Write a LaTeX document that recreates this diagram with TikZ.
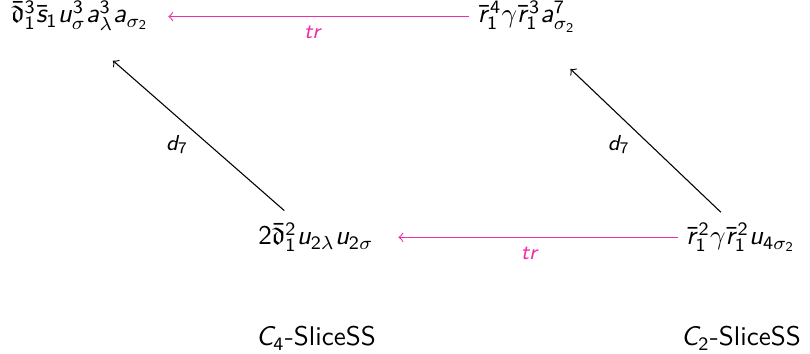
\documentclass[tikz,border=0pt]{standalone}
\usepackage{amsmath,amssymb}
\renewcommand{\familydefault}{\sfdefault}
% sans letters and digits in math, as in slides
\DeclareSymbolFont{sfletters}{OT1}{cmss}{m}{sl}
\SetSymbolFont{operators}{normal}{OT1}{cmss}{m}{n}
\DeclareMathSymbol{a}{\mathalpha}{sfletters}{`a}
\DeclareMathSymbol{d}{\mathalpha}{sfletters}{`d}
\DeclareMathSymbol{r}{\mathalpha}{sfletters}{`r}
\DeclareMathSymbol{s}{\mathalpha}{sfletters}{`s}
\DeclareMathSymbol{t}{\mathalpha}{sfletters}{`t}
\DeclareMathSymbol{u}{\mathalpha}{sfletters}{`u}
\DeclareMathSymbol{C}{\mathalpha}{sfletters}{`C}
\definecolor{trpink}{RGB}{236,48,168}

\begin{document}
\begin{tikzpicture}[x=0.37pt, y=0.37pt,
  term/.style={anchor=base, inner sep=3pt},
  dseven/.style={->, black, thin},
  trarrow/.style={->, trpink, thin},
  lbl/.style={font=\footnotesize}]
  \useasboundingbox (0,0) rectangle (810,354);
  % --- top row ---
  \node[term] (tl) at (80,331) {$\bar{\mathfrak{d}}_1^3\bar{s}_1u_\sigma^3a_\lambda^3a_{\sigma_2}$};
  \node[term] (tr) at (527,331) {$\bar{r}_1^4\gamma\bar{r}_1^3a_{\sigma_2}^7$};
  % --- bottom row ---
  \node[term] (bm) at (316,109) {$2\bar{\mathfrak{d}}_1^2u_{2\lambda}u_{2\sigma}$};
  \node[term] (br) at (741,109) {$\bar{r}_1^2\gamma\bar{r}_1^2u_{4\sigma_2}$};
  % --- column labels ---
  \node[term] (cfour) at (316,8) {$C_4$-SliceSS};
  \node[term] (ctwo) at (741,8) {$C_2$-SliceSS};
  % --- transfers ---
  \draw[trarrow, shorten >=4pt] (tr.west) -- (tr.west -| tl.east)
    node[lbl, midway, below, text=trpink] {$tr$};
  \draw[trarrow, shorten >=6pt] (br.west) -- (br.west -| bm.east)
    node[lbl, midway, below, text=trpink] {$tr$};
  % --- differentials ---
  \draw[dseven, shorten <=2pt, shorten >=12pt] (bm.140) -- (tl.-70)
    node[lbl, pos=0.4, left=4pt] {$d_7$};
  \draw[dseven, shorten <=1pt, shorten >=15pt] (br.128) -- (tr.-60)
    node[lbl, pos=0.4, left=4pt] {$d_7$};
\end{tikzpicture}
\end{document}
